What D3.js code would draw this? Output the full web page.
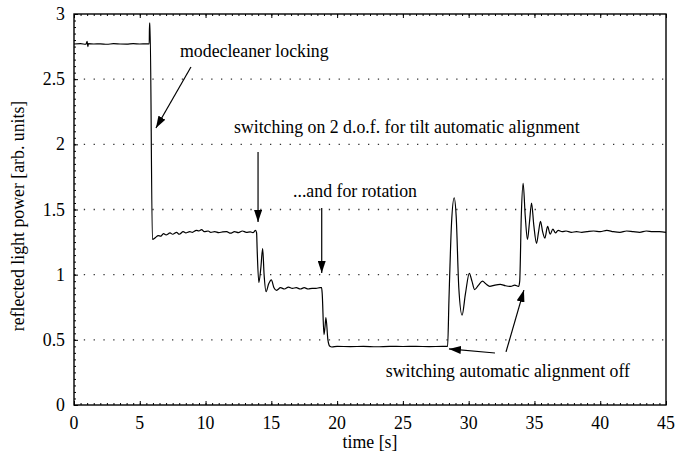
<!DOCTYPE html>
<html>
<head>
<meta charset="utf-8">
<script src="https://d3js.org/d3.v7.min.js"></script>
<style>
  body { margin: 0; background: #fff; }
</style>
</head>
<body>
<div id="chart"></div>
<script>
// Step 1: data
// =================================
var timeValues = [
  0, 0.5, 0.9, 1.0, 1.05, 1.1, 1.5, 2, 2.5, 3, 3.5, 4, 4.5, 5, 5.5, 5.72, 5.74, 5.78, 5.96,
  6.2, 6.4, 6.6, 6.8, 7.0, 7.3, 7.5, 7.8, 8.0, 8.3, 8.5, 8.8, 9.0, 9.3, 9.5, 9.7, 9.9,
  10.2, 10.4, 10.7, 11.0, 11.3, 11.6, 11.9, 12.2, 12.5, 12.8, 13.1, 13.4, 13.6, 13.8, 13.88,
  13.92, 14.05, 14.2, 14.34, 14.45, 14.6, 14.8, 15.0, 15.2, 15.4, 15.7, 16.0, 16.3, 16.6,
  16.9, 17.2, 17.5, 17.8, 18.1, 18.4, 18.7, 18.82,
  18.87, 19.0, 19.08, 19.15, 19.3, 19.45, 19.6, 20, 21, 22, 23, 24, 25, 26, 27, 28, 28.4,
  28.5, 28.7, 28.9, 29.05, 29.25, 29.5, 29.75, 30.05, 30.25, 30.45, 30.75, 31.05, 31.3,
  31.6, 32, 32.4, 32.8, 33.2, 33.5, 33.8,
  33.88, 34.0, 34.14, 34.3, 34.47, 34.62, 34.78, 34.95, 35.16, 35.3, 35.46, 35.62, 35.79,
  36.0, 36.2, 36.4, 36.6, 36.8, 37.1, 37.4, 37.8, 38.2, 38.6, 39, 39.5, 40, 40.5, 41,
  41.5, 42, 42.5, 43, 43.5, 44, 44.5, 45
];
var powerValues = [
  2.77, 2.772, 2.768, 2.79, 2.75, 2.772, 2.77, 2.771, 2.768, 2.772, 2.77, 2.769, 2.772, 2.77, 2.771, 2.77, 2.93, 2.93, 1.27,
  1.285, 1.30, 1.295, 1.315, 1.305, 1.32, 1.31, 1.325, 1.31, 1.33, 1.32, 1.33, 1.325, 1.34, 1.335, 1.345, 1.33,
  1.335, 1.325, 1.33, 1.322, 1.328, 1.33, 1.318, 1.33, 1.322, 1.335, 1.325, 1.328, 1.322, 1.34, 1.32,
  1.2, 0.94, 1.05, 1.2, 1.0, 0.87, 0.93, 0.96, 0.9, 0.88, 0.9, 0.89, 0.905, 0.895,
  0.9, 0.89, 0.9, 0.89, 0.895, 0.895, 0.9, 0.9,
  0.85, 0.54, 0.6, 0.67, 0.5, 0.45, 0.445, 0.45, 0.448, 0.45, 0.447, 0.45, 0.449, 0.45, 0.448, 0.45, 0.45,
  0.8, 1.4, 1.59, 1.45, 0.9, 0.69, 0.85, 1.01, 0.95, 0.885, 0.92, 0.95, 0.93,
  0.91, 0.92, 0.925, 0.915, 0.91, 0.92, 0.91,
  0.95, 1.45, 1.70, 1.45, 1.27, 1.4, 1.55, 1.38, 1.24, 1.32, 1.41, 1.33, 1.28,
  1.37, 1.31, 1.35, 1.32, 1.34, 1.33, 1.335, 1.325, 1.33, 1.325, 1.33, 1.335, 1.33, 1.34, 1.33,
  1.325, 1.335, 1.33, 1.325, 1.335, 1.33, 1.33, 1.325
];
var xTicks = [0, 5, 10, 15, 20, 25, 30, 35, 40, 45];
var yTicks = [0, 0.5, 1, 1.5, 2, 2.5, 3];
var gridValues = [0.5, 1, 1.5, 2, 2.5];

// annotations: label text, label anchor, arrows (time, power)
var noteTexts = ["modecleaner locking",
  "switching on 2 d.o.f. for tilt automatic alignment",
  "...and for rotation",
  "switching automatic alignment off"];
var notePos = [[8.06, 2.67, "start"], [12.16, 2.087, "start"], [16.65, 1.596, "start"], [42.26, 0.215, "end"]];
var arrows = [
  [8.89, 2.593, 6.23, 2.125],
  [13.99, 1.941, 13.99, 1.404],
  [18.83, 1.512, 18.83, 1.013],
  [32.0, 0.399, 28.5, 0.43],
  [32.84, 0.407, 34.2, 0.882]
];

// Step 2: chart setup
// =================================
var svgWidth = 676;
var svgHeight = 454;
var margin = { top: 14, right: 10, bottom: 49, left: 74 };
var width = svgWidth - margin.left - margin.right;
var height = svgHeight - margin.top - margin.bottom;
var fontFamily = "'Liberation Serif', 'Times New Roman', serif";
var fontSize = "17.8px";

var svg = d3.select("#chart")
  .append("svg")
  .attr("width", svgWidth)
  .attr("height", svgHeight)
  .style("font-family", fontFamily);

svg.append("defs").append("marker")
  .attr("id", "head")
  .attr("viewBox", "0 0 12 8")
  .attr("refX", 12)
  .attr("refY", 4)
  .attr("markerWidth", 12)
  .attr("markerHeight", 8)
  .attr("markerUnits", "userSpaceOnUse")
  .attr("orient", "auto")
  .append("path")
  .attr("d", "M0,0L12,4L0,8Z")
  .attr("fill", "#000");

var chartGroup = svg.append("g")
  .attr("transform", `translate(${margin.left}, ${margin.top})`);

// Step 3: scales
// =================================
var xScale = d3.scaleLinear().domain([0, 45]).range([0, width]);
var yScale = d3.scaleLinear().domain([0, 3]).range([height, 0]);

// Step 4: grid lines
// =================================
chartGroup.selectAll(".grid")
  .data(gridValues)
  .enter()
  .append("line")
  .attr("x1", 0)
  .attr("x2", width)
  .attr("y1", d => yScale(d))
  .attr("y2", d => yScale(d))
  .attr("stroke", "#333")
  .attr("stroke-width", 1.3)
  .attr("stroke-dasharray", "1.3,8.5");

// Step 5: axes (ticks pointing inward)
// =================================
function minorAxis(axisFn, scale, values, size) {
  return axisFn(scale).tickValues(values).tickSize(size).tickFormat("");
}
var xMinor = d3.range(0, 45.01, 0.5);
var yMinor = d3.range(0, 3.001, 0.05);

var bottomG = chartGroup.append("g").attr("transform", `translate(0, ${height})`);
bottomG.call(minorAxis(d3.axisTop, xScale, xMinor, 2));
bottomG.append("g").call(d3.axisTop(xScale).tickValues(xTicks).tickSize(4).tickFormat(""));

var topG = chartGroup.append("g");
topG.call(minorAxis(d3.axisBottom, xScale, xMinor, 2));
topG.append("g").call(d3.axisBottom(xScale).tickValues(xTicks).tickSize(4).tickFormat(""));

var leftG = chartGroup.append("g");
leftG.call(minorAxis(d3.axisRight, yScale, yMinor, 2));
leftG.append("g").call(d3.axisRight(yScale).tickValues(yTicks).tickSize(4).tickFormat(""));

chartGroup.selectAll(".domain").remove();
chartGroup.selectAll(".tick line").attr("stroke", "#000").attr("stroke-width", 1);

chartGroup.append("rect")
  .attr("width", width)
  .attr("height", height)
  .attr("fill", "none")
  .attr("stroke", "#000")
  .attr("stroke-width", 1.4);

// tick labels
chartGroup.selectAll(".xlab")
  .data(xTicks)
  .enter()
  .append("text")
  .attr("x", d => xScale(d))
  .attr("y", height + 24)
  .attr("text-anchor", "middle")
  .style("font-family", fontFamily)
  .style("font-size", fontSize)
  .text(d => d);

chartGroup.selectAll(".ylab")
  .data(yTicks)
  .enter()
  .append("text")
  .attr("x", -9)
  .attr("y", d => yScale(d) + 6)
  .attr("text-anchor", "end")
  .style("font-family", fontFamily)
  .style("font-size", fontSize)
  .text(d => d);

// axis titles
chartGroup.append("text")
  .attr("x", width / 2)
  .attr("y", height + 43)
  .attr("text-anchor", "middle")
  .style("font-family", fontFamily)
  .style("font-size", fontSize)
  .text("time [s]");

chartGroup.append("text")
  .attr("transform", `translate(${24 - margin.left}, ${202}) rotate(-90)`)
  .attr("text-anchor", "middle")
  .style("font-family", fontFamily)
  .style("font-size", fontSize)
  .text("reflected light power [arb. units]");

// Step 6: the trace
// =================================
var trace = timeValues.map((t, i) => [t, powerValues[i]]);
var line = d3.line()
  .x(d => xScale(d[0]))
  .y(d => yScale(d[1]))
  .curve(d3.curveMonotoneX);

chartGroup.append("path")
  .datum(trace)
  .attr("d", line)
  .attr("fill", "none")
  .attr("stroke", "#000")
  .attr("stroke-width", 1.2);

// Step 7: annotations
// =================================
chartGroup.selectAll(".note")
  .data(noteTexts)
  .enter()
  .append("text")
  .attr("x", (d, i) => xScale(notePos[i][0]))
  .attr("y", (d, i) => yScale(notePos[i][1]))
  .attr("text-anchor", (d, i) => notePos[i][2])
  .style("font-family", fontFamily)
  .style("font-size", fontSize)
  .text(d => d);

chartGroup.selectAll(".arrow")
  .data(arrows)
  .enter()
  .append("line")
  .attr("x1", d => xScale(d[0]))
  .attr("y1", d => yScale(d[1]))
  .attr("x2", d => xScale(d[2]))
  .attr("y2", d => yScale(d[3]))
  .attr("stroke", "#000")
  .attr("stroke-width", 1.2)
  .attr("marker-end", "url(#head)");
</script>
</body>
</html>
